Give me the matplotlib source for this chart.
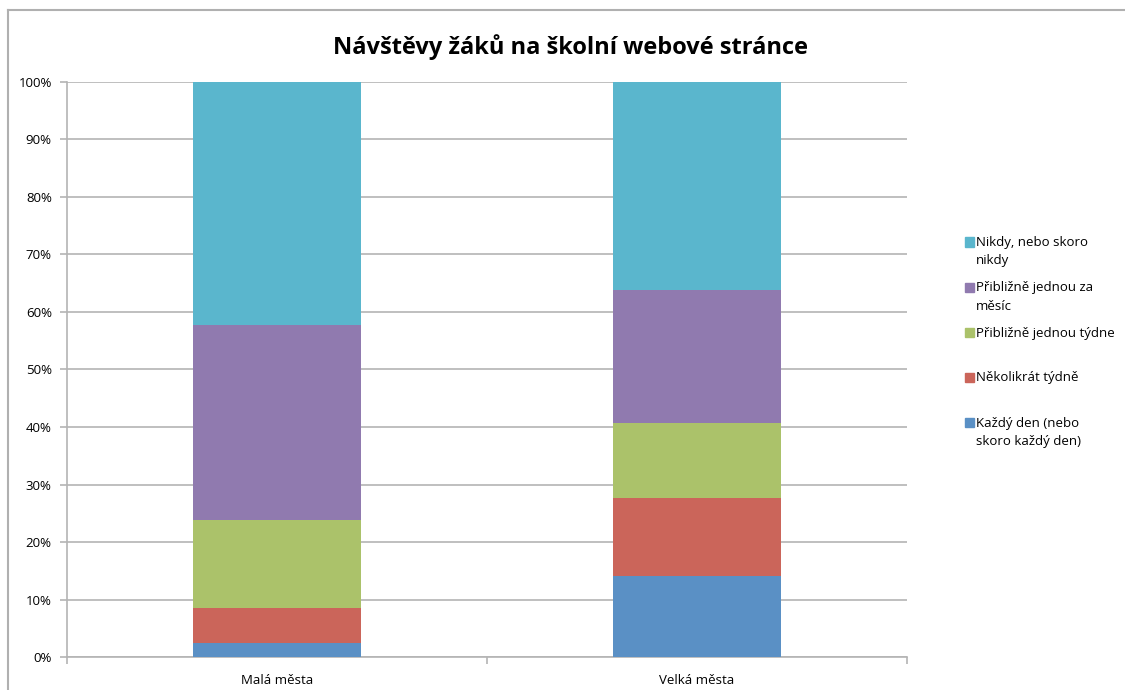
import matplotlib.pyplot as plt
from matplotlib.lines import Line2D
from matplotlib.patches import Rectangle
import numpy as np

plt.rcParams['font.family'] = ['Open Sans', 'DejaVu Sans']

categories = ['Malá města', 'Velká města']
series_names = ['Každý den (nebo\nskoro každý den)', 'Několikrát týdně',
                'Přibližně jednou týdne', 'Přibližně jednou za\nměsíc',
                'Nikdy, nebo skoro\nnikdy']
kazdy_den = [2.4, 14.2]
nekolikrat = [6.2, 13.4]
jednou_tydne = [15.3, 13.1]
jednou_mesic = [33.8, 23.1]
nikdy = [42.3, 36.2]
colors = ['#5a90c5', '#cb655a', '#abc26a', '#907aaf', '#5ab6cd']

values = [kazdy_den, nekolikrat, jednou_tydne, jednou_mesic, nikdy]

W, H = 1125, 690
fig = plt.figure(figsize=(W / 100, H / 100), dpi=100)
ax = fig.add_axes([0.0596, 0.0474, 0.7467, 0.8342])

x = np.arange(len(categories))
bottom = np.zeros(len(categories))
for vals, name, c in zip(values, series_names, colors):
    ax.bar(x, vals, width=0.4, bottom=bottom, color=c, label=name, zorder=3)
    bottom += np.array(vals)

ax.set_xlim(-0.5, 1.5)
ax.set_ylim(0, 100)
ax.set_yticks(np.arange(0, 101, 10))
ax.set_yticklabels([f'{v}%' for v in range(0, 101, 10)])
ax.yaxis.grid(True, color='#b4b4b4', linewidth=1.2, zorder=0)
ax.set_xticks(x)
ax.set_xticklabels(categories)
ax.set_xticks([-0.5, 0.5, 1.5], minor=True)
ax.tick_params(axis='x', which='major', length=0, pad=12, labelsize=9.5)
ax.tick_params(axis='x', which='minor', length=5, color='#b4b4b4', width=1.2)
ax.tick_params(axis='y', length=5, color='#b4b4b4', width=1.2, labelsize=9.5, pad=6)
for s in ['top', 'right']:
    ax.spines[s].set_visible(False)
for s in ['left', 'bottom']:
    ax.spines[s].set_color('#b4b4b4')
    ax.spines[s].set_linewidth(1.2)

fig.text(0.507, 0.932, 'Návštěvy žáků na školní webové stránce',
         ha='center', va='center', fontsize=17, fontweight='bold')

# legend, Excel style: equal slots, marker next to the first line
for i, (name, c) in enumerate(zip(series_names[::-1], colors[::-1])):
    yc = 242 + 45 * i  # first line centre in px from top
    fig.add_artist(Rectangle((965 / W, (H - yc - 4.5) / H), 9 / W, 9 / H,
                             transform=fig.transFigure, color=c))
    fig.text(976 / W, (H - yc + 5.5) / H, name, ha='left', va='top',
             fontsize=9.5, linespacing=1.5)

# chart border
fig.add_artist(Line2D([0.0067, 0.0067], [0, 0.985], color='#b0b0b0', linewidth=1.5))
fig.add_artist(Line2D([0.0067, 1.0], [0.985, 0.985], color='#b0b0b0', linewidth=1.5))

plt.savefig('out.png', dpi=100)
